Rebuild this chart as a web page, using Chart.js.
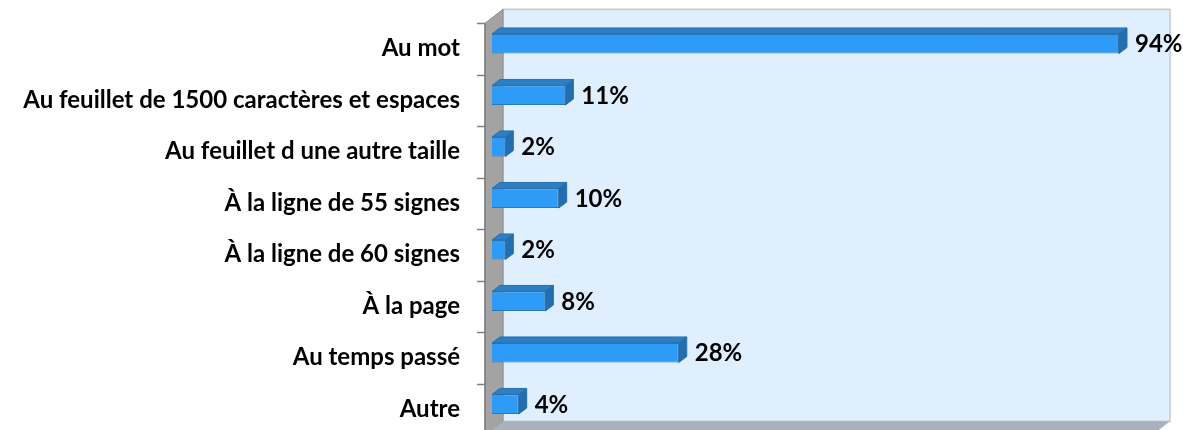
<!DOCTYPE html>
<html>
<head>
<meta charset="utf-8">
<script src="https://cdn.jsdelivr.net/npm/chart.js@4.4.0/dist/chart.umd.min.js"></script>
<style>
    html, body { margin: 0; padding: 0; background: #ffffff; }
    #wrap { width: 1183px; height: 430px; }
</style>
</head>
<body>
<div id="wrap"><canvas id="chart" width="1183" height="430"></canvas></div>
<script>
// Catégories et valeurs (en %)
const categories = [
    'Au mot',
    'Au feuillet de 1500 caractères et espaces',
    'Au feuillet d une autre taille',
    'À la ligne de 55 signes',
    'À la ligne de 60 signes',
    'À la page',
    'Au temps passé',
    'Autre'
];
const values = [94, 11, 2, 10, 2, 8, 28, 4];
const valueLabels = ['94%', '11%', '2%', '10%', '2%', '8%', '28%', '4%'];

// Effet 3D : parois, sol et faces des barres
const depth3d = {
    id: 'depth3d',
    beforeDatasetsDraw(chart) {
        const ctx = chart.ctx;
        const ca = chart.chartArea;
        // plan avant = zone du graphique décalée
        const fl = ca.left - 7, fr = ca.right - 7, ft = ca.top + 5.3, fb = ca.bottom + 5.3;
        const dx = 18, dy = -14;
        ctx.save();
        // fond
        ctx.fillStyle = '#dfeffd';
        ctx.fillRect(fl + dx, ft + dy, fr - fl, fb - ft);
        ctx.strokeStyle = '#c6c9cc';
        ctx.lineWidth = 1.5;
        ctx.strokeRect(fl + dx, ft + dy, fr - fl, fb - ft);
        // paroi gauche
        ctx.beginPath();
        ctx.moveTo(fl, ft);
        ctx.lineTo(fl + dx, ft + dy);
        ctx.lineTo(fl + dx, fb + dy);
        ctx.lineTo(fl, fb);
        ctx.closePath();
        ctx.fillStyle = '#a3a3a3';
        ctx.fill();
        ctx.strokeStyle = '#8c8c8c';
        ctx.lineWidth = 1;
        ctx.stroke();
        // sol
        ctx.beginPath();
        ctx.moveTo(fl, fb);
        ctx.lineTo(fl + dx, fb + dy);
        ctx.lineTo(fr + dx, fb + dy);
        ctx.lineTo(fr, fb);
        ctx.closePath();
        ctx.fillStyle = '#a9b2bc';
        ctx.fill();
        // graduations de l'axe des catégories
        const n = categories.length;
        const step = (ca.bottom - ca.top) / n;
        ctx.strokeStyle = '#7f7f7f';
        ctx.lineWidth = 1.5;
        ctx.beginPath();
        ctx.moveTo(fl, ft);
        ctx.lineTo(fl, fb);
        for (let i = 0; i <= n; i++) {
            const y = Math.round(ft + i * step) + 0.5;
            ctx.moveTo(fl - 8, y);
            ctx.lineTo(fl, y);
        }
        ctx.stroke();
        ctx.restore();
    },
    afterDatasetsDraw(chart) {
        const ctx = chart.ctx;
        const meta = chart.getDatasetMeta(0);
        const bx = 8, by = -6;
        ctx.save();
        meta.data.forEach((bar, i) => {
            const h = bar.height;
            const top = bar.y - h / 2, bottom = bar.y + h / 2;
            const left = bar.base, right = bar.x;
            // face supérieure
            ctx.beginPath();
            ctx.moveTo(left, top);
            ctx.lineTo(left + bx, top + by);
            ctx.lineTo(right + bx, top + by);
            ctx.lineTo(right, top);
            ctx.closePath();
            ctx.fillStyle = '#2a7fc6';
            ctx.fill();
            ctx.strokeStyle = '#2a6fa6';
            ctx.lineWidth = 1;
            ctx.stroke();
            // face latérale
            ctx.beginPath();
            ctx.moveTo(right, top);
            ctx.lineTo(right + bx, top + by);
            ctx.lineTo(right + bx, bottom + by);
            ctx.lineTo(right, bottom);
            ctx.closePath();
            ctx.fillStyle = '#216fb0';
            ctx.fill();
            ctx.stroke();
            // étiquette
            ctx.fillStyle = '#000000';
            ctx.font = 'bold 24px Lato';
            ctx.textAlign = 'left';
            ctx.textBaseline = 'middle';
            ctx.fillText(valueLabels[i], right + 16, bar.y + 1);
        });
        ctx.restore();
    }
};

new Chart(document.getElementById('chart'), {
    type: 'bar',
    data: {
        labels: categories,
        datasets: [{
            data: values,
            backgroundColor: '#2e9cf6',
            borderColor: '#2a78b4',
            borderWidth: 1,
            barPercentage: 0.38,
            categoryPercentage: 1
        }]
    },
    options: {
        indexAxis: 'y',
        responsive: false,
        animation: false,
        layout: {
            padding: { top: 18, right: 24, bottom: 0, left: 0 }
        },
        plugins: {
            legend: { display: false },
            tooltip: { enabled: false }
        },
        scales: {
            x: {
                display: false,
                min: 0,
                max: 100
            },
            y: {
                afterFit(scale) {
                    scale.width = 492;
                    scale.paddingTop = 0;
                    scale.paddingBottom = 0;
                },
                grid: { display: false, drawTicks: false },
                border: { display: false },
                ticks: {
                    padding: 32,
                    labelOffset: 5,
                    color: '#000000',
                    font: { family: 'Lato', size: 24, weight: 'bold' }
                }
            }
        }
    },
    plugins: [depth3d]
});
</script>
</body>
</html>
